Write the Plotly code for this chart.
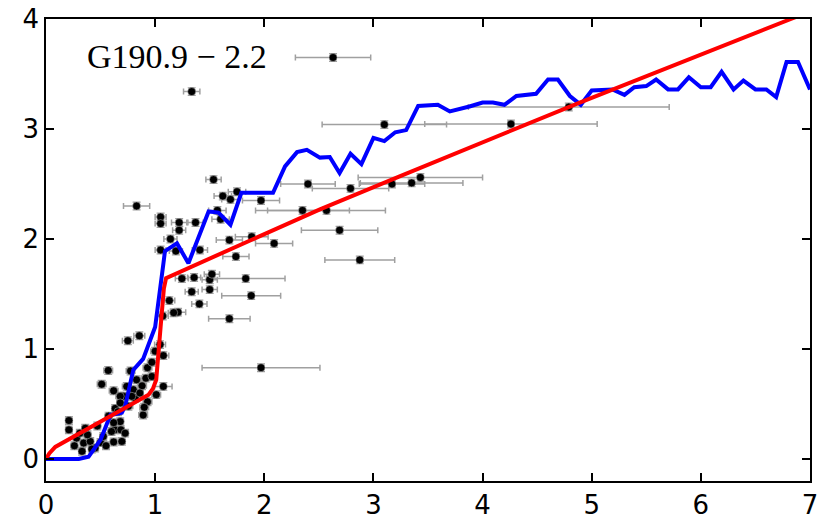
import plotly.graph_objects as go

# ---- data ----
# scatter points: x, y, x-error
pt_x = [2.63, 1.335, 3.10, 4.26, 4.79, 2.40, 2.79, 3.17, 3.35, 3.43, 1.97, 2.35, 2.57, 2.69, 2.09,
        2.875, 1.83, 1.88, 1.68, 1.97, 0.83, 1.885, 1.74, 1.68,
        1.535, 1.62, 1.69, 1.75, 1.57, 1.60, 1.05, 1.05, 1.22, 1.37, 1.22, 1.14, 1.05, 1.19, 1.41,
        1.245, 1.357, 1.335, 1.405, 1.50, 1.52, 1.50, 1.13, 1.21, 1.17, 1.07, 1.075, 1.045, 0.855,
        0.75, 1.075,
        1.01, 0.93, 0.89, 0.93, 0.57, 0.51, 0.62, 0.71, 0.775, 0.80, 0.83, 0.88, 0.915, 0.97, 0.74,
        0.68, 0.755, 0.21, 0.21, 0.28, 0.345, 0.405, 0.33, 0.38, 0.50, 0.525, 0.62, 0.695, 0.63,
        0.686, 0.68, 0.725, 0.62, 0.573, 0.45, 0.31, 0.634, 0.68, 0.817, 0.86, 0.786, 0.26, 0.42,
        0.55, 0.60, 0.47, 0.36, 0.66, 0.90, 0.97, 1.00]
pt_y = [3.65, 3.34, 3.04, 3.045, 3.20, 2.50, 2.46, 2.50, 2.51, 2.56, 2.35, 2.26, 2.26, 2.08, 1.96,
        1.81, 1.64, 1.485, 1.275, 0.83, 2.30, 2.02, 1.84, 1.99,
        2.54, 2.39, 2.36, 2.43, 2.26, 2.18, 2.20, 2.14, 2.15, 2.15, 2.08, 2.00, 1.90, 1.89, 1.90,
        1.64, 1.65, 1.52, 1.41, 1.63, 1.68, 1.54, 1.44, 1.335, 1.33, 1.30, 0.94, 1.04, 1.12,
        1.075, 0.66,
        0.585, 0.52, 0.40, 0.83, 0.805, 0.68, 0.62, 0.57, 0.80, 0.63, 0.72, 0.665, 0.735, 0.75, 0.66,
        0.57, 0.48, 0.35, 0.265, 0.19, 0.145, 0.16, 0.07, 0.22, 0.15, 0.205, 0.155, 0.16, 0.265,
        0.265, 0.34, 0.235, 0.33, 0.39, 0.10, 0.235, 0.46, 0.51, 0.555, 0.60, 0.57, 0.12, 0.09,
        0.12, 0.25, 0.30, 0.28, 0.43, 0.47, 0.88, 0.98]
pt_xerr = [0.345, 0.075, 0.57, 0.79, 0.92, 0.25, 0.35, 0.30, 0.47, 0.57, 0.17, 0.43, 0.54, 0.35, 0.17,
           0.32, 0.36, 0.27, 0.19, 0.54, 0.12, 0.15, 0.12, 0.12,
           0.07, 0.08, 0.08, 0.08, 0.08, 0.08, 0.05, 0.05, 0.07, 0.07, 0.06, 0.06, 0.05, 0.06, 0.07,
           0.06, 0.06, 0.06, 0.07, 0.07, 0.07, 0.07, 0.05, 0.07, 0.05, 0.05, 0.05, 0.05, 0.05,
           0.05, 0.08,
           0.04, 0.04, 0.04, 0.04, 0.04, 0.04, 0.04, 0.04, 0.04, 0.04, 0.04, 0.04, 0.04, 0.04, 0.04,
           0.04, 0.04, 0.03, 0.03, 0.03, 0.03, 0.03, 0.03, 0.03, 0.03, 0.03, 0.03, 0.03, 0.03,
           0.03, 0.03, 0.03, 0.03, 0.03, 0.03, 0.03, 0.03, 0.03, 0.03, 0.03, 0.03, 0.03, 0.03,
           0.03, 0.03, 0.03, 0.03, 0.03, 0.04, 0.04, 0.04]

# blue curve
blue_x = [0.0, 0.07, 0.30, 0.39, 0.50, 0.59, 0.695, 0.725, 0.80, 0.89, 1.00, 1.076, 1.09, 1.20,
          1.305, 1.49, 1.58, 1.69, 1.79, 2.08, 2.19, 2.30, 2.39, 2.51, 2.60, 2.69, 2.79, 2.89,
          3.00, 3.10, 3.20, 3.30, 3.41, 3.59, 3.70, 3.88, 4.00, 4.095, 4.20, 4.31, 4.49, 4.60,
          4.69, 4.80, 4.90, 5.00, 5.19, 5.30, 5.39, 5.50, 5.59, 5.70, 5.79, 5.89, 6.00, 6.09,
          6.19, 6.30, 6.39, 6.50, 6.60, 6.69, 6.785, 6.89, 7.00]
blue_y = [0.0, 0.0, 0.0, 0.02, 0.175, 0.40, 0.42, 0.48, 0.81, 0.91, 1.20, 1.78, 1.89, 1.96,
          1.78, 2.25, 2.24, 2.13, 2.42, 2.42, 2.66, 2.79, 2.81, 2.74, 2.745, 2.60, 2.775, 2.68,
          2.92, 2.89, 2.97, 2.99, 3.21, 3.22, 3.16, 3.205, 3.24, 3.24, 3.22, 3.30, 3.32, 3.45,
          3.45, 3.30, 3.22, 3.35, 3.36, 3.31, 3.38, 3.39, 3.45, 3.36, 3.36, 3.47, 3.38, 3.38,
          3.52, 3.36, 3.44, 3.36, 3.36, 3.29, 3.61, 3.61, 3.36]

# red curve
red_x = [0.0, 0.03, 0.085, 0.94, 0.98, 1.01, 1.05, 1.08, 1.10, 2.51, 3.24, 4.89, 6.825, 7.0]
red_y = [0.0, 0.05, 0.11, 0.585, 0.64, 0.72, 1.20, 1.55, 1.645, 2.27, 2.57, 3.24, 4.0, 4.07]

label_text = "G190.9 \u2212 2.2"
x_ticks = [0, 1, 2, 3, 4, 5, 6, 7]
y_ticks = [0, 1, 2, 3, 4]

fig = go.Figure()
fig.add_trace(go.Scatter(
    x=pt_x, y=pt_y, mode="markers",
    marker=dict(color="black", size=8, line=dict(color="#bbbbbb", width=0.5)),
    error_x=dict(type="data", array=pt_xerr, color="#a0a0a0", thickness=1.5, width=3),
    error_y=dict(type="constant", value=0.035, color="#a0a0a0", thickness=1.2, width=4),
    showlegend=False, hoverinfo="skip"))
fig.add_trace(go.Scatter(x=blue_x, y=blue_y, mode="lines",
                         line=dict(color="#0000ff", width=4), showlegend=False))
fig.add_trace(go.Scatter(x=red_x, y=red_y, mode="lines",
                         line=dict(color="#ff0000", width=4), showlegend=False))

fig.add_annotation(x=0.36, y=3.66, xref="x", yref="y", text=label_text, showarrow=False,
                   xanchor="left", yanchor="middle",
                   font=dict(family="Liberation Serif", size=34, color="black"))

axis_common = dict(showgrid=False, zeroline=False, showline=True, linecolor="black",
                   linewidth=1.5, mirror="ticks", ticks="inside", ticklen=8, tickwidth=1.5,
                   tickcolor="black", automargin=False,
                   tickfont=dict(family="DejaVu Sans", size=26, color="black"))
fig.update_xaxes(range=[0, 7], tickvals=x_ticks, **axis_common)
fig.update_yaxes(range=[-0.2, 4], tickvals=y_ticks, **axis_common)

fig.update_layout(width=820, height=521, margin=dict(l=46, r=10, t=19, b=40),
                  plot_bgcolor="white", paper_bgcolor="white")

fig.write_html("out.html")
